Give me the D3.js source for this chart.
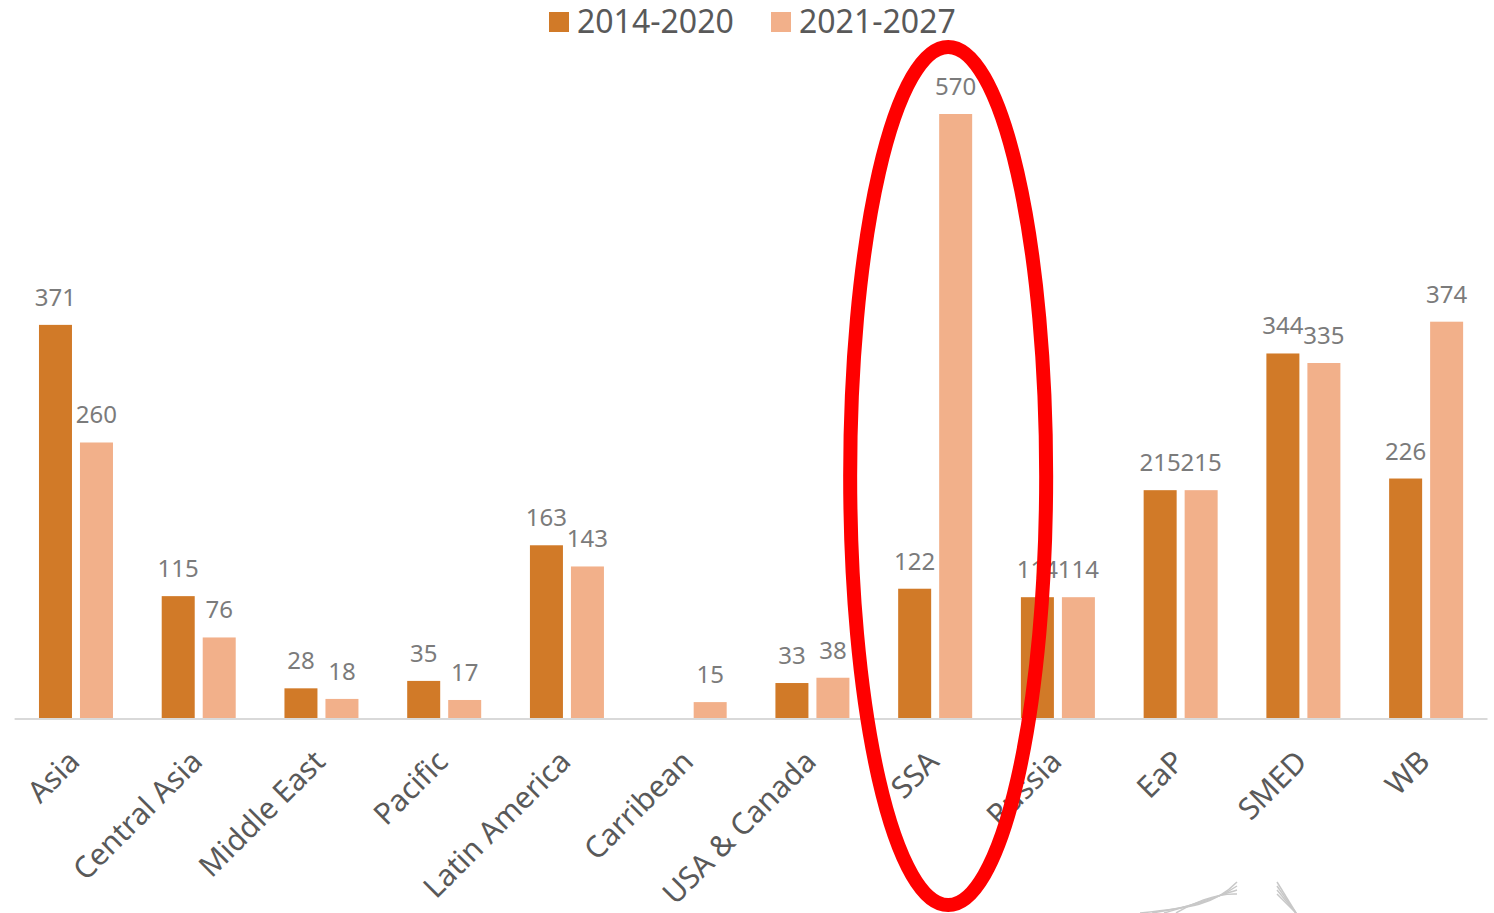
<!DOCTYPE html>
<html>
<head>
<meta charset="utf-8">
<script src="https://cdn.jsdelivr.net/npm/d3@7"></script>
<style>
  body { margin: 0; background: #fff; }
  text { font-family: "Noto Sans", sans-serif; }
</style>
</head>
<body>
<script>
const width = 1494;
const height = 913;

// Data.
const categories = ["Asia", "Central Asia", "Middle East", "Pacific", "Latin America", "Carribean",
  "USA & Canada", "SSA", "Russia", "EaP", "SMED", "WB"];
const seriesNames = ["2014-2020", "2021-2027"];
const values2014 = [371, 115, 28, 35, 163, null, 33, 122, 114, 215, 344, 226];
const values2021 = [260, 76, 18, 17, 143, 15, 38, 570, 114, 215, 335, 374];
const colors = ["#d17a28", "#f2b08a"];

const baseline = 718;

const svg = d3.select("body").append("svg")
  .attr("width", width)
  .attr("height", height);

const x0 = d3.scaleBand().domain(categories).range([14.6, 1487.5]);
const x1 = d3.scaleBand().domain(seriesNames)
  .range([x0.bandwidth() / 2 - 37, x0.bandwidth() / 2 + 37])
  .paddingInner(0.195);
const y = d3.scaleLinear().domain([0, 570]).range([baseline, 114]);

const rows = categories.map((c, i) => ({
  cat: c,
  vals: [
    { s: seriesNames[0], v: values2014[i], c: colors[0] },
    { s: seriesNames[1], v: values2021[i], c: colors[1] }
  ]
}));

const group = svg.selectAll(".grp")
  .data(rows)
  .enter()
  .append("g")
  .attr("transform", d => `translate(${x0(d.cat)},0)`);

// Bars
group.selectAll("rect")
  .data(d => d.vals.filter(v => v.v != null))
  .enter()
  .append("rect")
  .attr("x", d => x1(d.s))
  .attr("width", x1.bandwidth())
  .attr("y", d => y(d.v))
  .attr("height", d => baseline - y(d.v))
  .attr("fill", d => d.c);

// Value labels
group.selectAll(".val")
  .data(d => d.vals.filter(v => v.v != null))
  .enter()
  .append("text")
  .attr("class", "val")
  .attr("x", d => x1(d.s) + x1.bandwidth() / 2)
  .attr("y", d => y(d.v) - 19)
  .attr("text-anchor", "middle")
  .style("font-size", "24px")
  .style("fill", "#7b7b7b")
  .text(d => d.v);

// Axis line
svg.append("line")
  .attr("x1", 14.6).attr("x2", 1487.5)
  .attr("y1", baseline + 1).attr("y2", baseline + 1)
  .attr("stroke", "#d9d9d9")
  .attr("stroke-width", 2);

// Category labels, rotated
svg.selectAll(".cat")
  .data(categories)
  .enter()
  .append("text")
  .attr("class", "cat")
  .attr("transform", d => `translate(${x0(d) + x0.bandwidth() / 2 - 2},${baseline + 38}) rotate(-45)`)
  .attr("text-anchor", "end")
  .attr("dy", "0.35em")
  .style("font-size", "30px")
  .style("fill", "#595959")
  .text(d => d);

// Legend
const legendX = [549, 771];
seriesNames.forEach((s, i) => {
  svg.append("rect")
    .attr("x", legendX[i]).attr("y", 12)
    .attr("width", 20).attr("height", 20)
    .attr("fill", colors[i]);
  svg.append("text")
    .attr("x", legendX[i] + 28).attr("y", 33)
    .style("font-size", "32px")
    .style("fill", "#595959")
    .text(s);
});

// Red highlight ellipse round SSA
svg.append("ellipse")
  .attr("cx", x0("SSA") + x0.bandwidth() / 2 + 13)
  .attr("cy", 476)
  .attr("rx", 98)
  .attr("ry", 429)
  .attr("fill", "none")
  .attr("stroke", "#ff0000")
  .attr("stroke-width", 14);

// Faint logo lines in the bottom corner
const deco = svg.append("g").attr("fill", "none").attr("stroke", "#c8c8c8").attr("stroke-width", 1.5);
[0, 4, 8, 12].forEach(o => {
  deco.append("path").attr("d", `M${1140 + o * 3},${913} C1190,${908 - o * 0.3} 1215,${905 - o} ${1237},${882 + o}`);
  deco.append("path").attr("d", `M1277,${882 + o} L1296,${913}`);
});
</script>
</body>
</html>
